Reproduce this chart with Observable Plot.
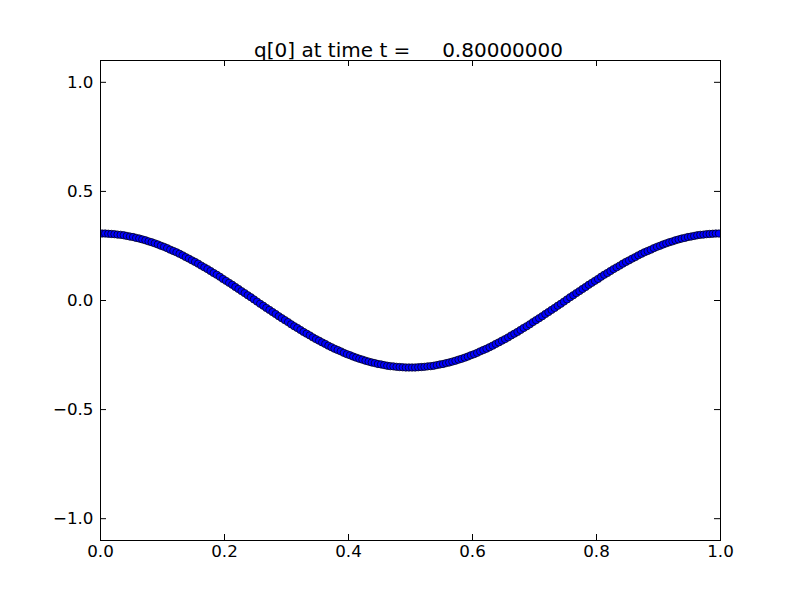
<!DOCTYPE html>
<html><head><meta charset="utf-8">
<script src="https://cdn.jsdelivr.net/npm/d3@7"></script>
<script src="https://cdn.jsdelivr.net/npm/@observablehq/plot@0.6"></script>
<style>body{margin:0;background:#fff} svg text{white-space:pre}</style>
</head><body><div id="chart"></div>
<script>
const titleText = "q[0] at time t =     0.80000000";
const xTicks = [0, 0.2, 0.4, 0.6, 0.8, 1.0];
const yTicks = [-1.0, -0.5, 0.0, 0.5, 1.0];
const xs = [
0.0025,0.0075,0.0125,0.0175,0.0225,0.0275,0.0325,0.0375,0.0425,0.0475,
0.0525,0.0575,0.0625,0.0675,0.0725,0.0775,0.0825,0.0875,0.0925,0.0975,
0.1025,0.1075,0.1125,0.1175,0.1225,0.1275,0.1325,0.1375,0.1425,0.1475,
0.1525,0.1575,0.1625,0.1675,0.1725,0.1775,0.1825,0.1875,0.1925,0.1975,
0.2025,0.2075,0.2125,0.2175,0.2225,0.2275,0.2325,0.2375,0.2425,0.2475,
0.2525,0.2575,0.2625,0.2675,0.2725,0.2775,0.2825,0.2875,0.2925,0.2975,
0.3025,0.3075,0.3125,0.3175,0.3225,0.3275,0.3325,0.3375,0.3425,0.3475,
0.3525,0.3575,0.3625,0.3675,0.3725,0.3775,0.3825,0.3875,0.3925,0.3975,
0.4025,0.4075,0.4125,0.4175,0.4225,0.4275,0.4325,0.4375,0.4425,0.4475,
0.4525,0.4575,0.4625,0.4675,0.4725,0.4775,0.4825,0.4875,0.4925,0.4975,
0.5025,0.5075,0.5125,0.5175,0.5225,0.5275,0.5325,0.5375,0.5425,0.5475,
0.5525,0.5575,0.5625,0.5675,0.5725,0.5775,0.5825,0.5875,0.5925,0.5975,
0.6025,0.6075,0.6125,0.6175,0.6225,0.6275,0.6325,0.6375,0.6425,0.6475,
0.6525,0.6575,0.6625,0.6675,0.6725,0.6775,0.6825,0.6875,0.6925,0.6975,
0.7025,0.7075,0.7125,0.7175,0.7225,0.7275,0.7325,0.7375,0.7425,0.7475,
0.7525,0.7575,0.7625,0.7675,0.7725,0.7775,0.7825,0.7875,0.7925,0.7975,
0.8025,0.8075,0.8125,0.8175,0.8225,0.8275,0.8325,0.8375,0.8425,0.8475,
0.8525,0.8575,0.8625,0.8675,0.8725,0.8775,0.8825,0.8875,0.8925,0.8975,
0.9025,0.9075,0.9125,0.9175,0.9225,0.9275,0.9325,0.9375,0.9425,0.9475,
0.9525,0.9575,0.9625,0.9675,0.9725,0.9775,0.9825,0.9875,0.9925,0.9975
];
const qs = [
0.307,0.307,0.306,0.305,0.304,0.302,0.301,0.299,0.296,0.293,
0.291,0.287,0.284,0.280,0.276,0.271,0.267,0.262,0.257,0.251,
0.246,0.240,0.233,0.227,0.221,0.214,0.207,0.199,0.192,0.184,
0.177,0.169,0.160,0.152,0.144,0.135,0.126,0.118,0.109,0.099,
0.090,0.081,0.072,0.062,0.053,0.043,0.034,0.024,0.015,0.005,
-0.005,-0.015,-0.024,-0.034,-0.043,-0.053,-0.062,-0.072,-0.081,-0.090,
-0.099,-0.109,-0.118,-0.126,-0.135,-0.144,-0.152,-0.160,-0.169,-0.177,
-0.184,-0.192,-0.199,-0.207,-0.214,-0.221,-0.227,-0.233,-0.240,-0.246,
-0.251,-0.257,-0.262,-0.267,-0.271,-0.276,-0.280,-0.284,-0.287,-0.291,
-0.293,-0.296,-0.299,-0.301,-0.302,-0.304,-0.305,-0.306,-0.307,-0.307,
-0.307,-0.307,-0.306,-0.305,-0.304,-0.302,-0.301,-0.299,-0.296,-0.293,
-0.291,-0.287,-0.284,-0.280,-0.276,-0.271,-0.267,-0.262,-0.257,-0.251,
-0.246,-0.240,-0.233,-0.227,-0.221,-0.214,-0.207,-0.199,-0.192,-0.184,
-0.177,-0.169,-0.160,-0.152,-0.144,-0.135,-0.126,-0.118,-0.109,-0.099,
-0.090,-0.081,-0.072,-0.062,-0.053,-0.043,-0.034,-0.024,-0.015,-0.005,
0.005,0.015,0.024,0.034,0.043,0.053,0.062,0.072,0.081,0.090,
0.099,0.109,0.118,0.126,0.135,0.144,0.152,0.160,0.169,0.177,
0.184,0.192,0.199,0.207,0.214,0.221,0.227,0.233,0.240,0.246,
0.251,0.257,0.262,0.267,0.271,0.276,0.280,0.284,0.287,0.291,
0.293,0.296,0.299,0.301,0.302,0.304,0.305,0.306,0.307,0.307
];
const xDomain = [0, 1];
const yDomain = [-1.1, 1.1];
const data = xs.map((x, i) => ({x, q: qs[i]}));
const fmt = d3.format(".1f");
const chart = Plot.plot({
  width: 800, height: 600,
  marginLeft: 100, marginRight: 80, marginTop: 60, marginBottom: 60,
  style: {fontFamily: "'DejaVu Sans', sans-serif", fontSize: "16.7px", color: "black", background: "white"},
  x: {domain: xDomain},
  y: {domain: yDomain},
  marks: [
    Plot.dot(data, {x: "x", y: "q", r: 3.7, fill: "#0000ff", stroke: "black", strokeWidth: 0.7, clip: true}),
    Plot.axisX(xTicks, {anchor: "bottom", tickSize: 0, tickPadding: 5, tickFormat: fmt, label: null}),
    Plot.axisY(yTicks, {anchor: "left", tickSize: 0, tickPadding: 7, tickFormat: fmt, label: null}),
    Plot.ruleX(xTicks, {x: d => d, y1: yDomain[0], y2: yDomain[0], insetTop: -6, stroke: "black"}),
    Plot.ruleX(xTicks, {x: d => d, y1: yDomain[1], y2: yDomain[1], insetBottom: -6, stroke: "black"}),
    Plot.ruleY(yTicks, {y: d => d, x1: xDomain[0], x2: xDomain[0], insetRight: -6, stroke: "black"}),
    Plot.ruleY(yTicks, {y: d => d, x1: xDomain[1], x2: xDomain[1], insetLeft: -6, stroke: "black"}),
    Plot.frame({stroke: "black", strokeWidth: 1}),
    Plot.text([titleText], {text: d => d, frameAnchor: "top", lineAnchor: "bottom", dy: -4, dx: -2, fontSize: 20})
  ]
});
document.getElementById("chart").appendChild(chart);
</script>
</body></html>
